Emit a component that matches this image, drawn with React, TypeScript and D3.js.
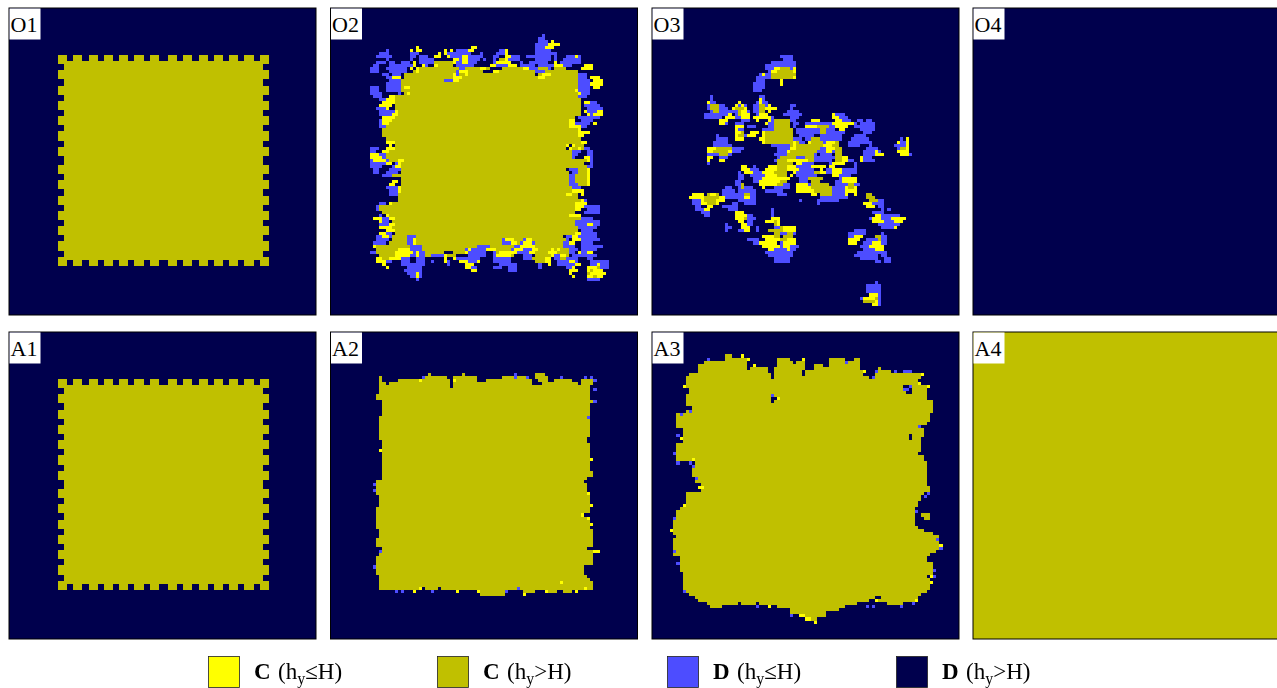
import React, { useEffect, useRef } from 'react';
import * as d3 from 'd3';

type Row = number[]; // [row, start, end, start, end, ...]

const stateKeys = ['C-low', 'C-high', 'D-low', 'D-high'];
const stateColors = ['#ffff00', '#c0c000', '#4d4dff', '#00004d'];
const legendBold = ['C', 'C', 'D', 'D'];
const legendRelation = ['≤H)', '>H)', '≤H)', '>H)'];

const panelLabels = ['O1', 'O2', 'O3', 'O4', 'A1', 'A2', 'A3', 'A4'];
const panelBackground = ['D-high', 'D-high', 'D-high', 'D-high', 'D-high', 'D-high', 'D-high', 'C-high'];

// starting square, its edge teeth
const seedBumps = [[16, 18], [21, 23], [26, 28], [31, 33], [36, 38], [41, 43], [46, 48], [52, 54], [57, 59], [62, 64], [67, 69], [72, 74], [77, 79], [82, 84]];
const seedCore = [18, 82];
const seedEdgeRows = [16, 17, 83, 84];
const seedEdgeCols = [16, 17, 83, 84];

const o2Blue: Row[] = [
  [9, 69, 69], [10, 68, 69], [11, 68, 70], [12, 67, 70], [13, 67, 69],
  [14, 18, 18, 41, 44, 55, 57, 67, 71],
  [15, 16, 18, 26, 28, 38, 45, 49, 49, 54, 57, 67, 73],
  [16, 15, 19, 26, 27, 29, 31, 39, 49, 53, 54, 59, 61, 64, 71, 73, 73, 77, 81],
  [17, 18, 18, 26, 26, 29, 33, 42, 48, 50, 50, 53, 53, 58, 61, 67, 71, 73, 73, 76, 81],
  [18, 15, 17, 19, 20, 23, 25, 29, 33, 41, 47, 53, 58, 62, 62, 65, 70, 75, 81],
  [19, 14, 15, 19, 27, 30, 31, 41, 46, 52, 60, 62, 66, 68, 72, 74, 78],
  [20, 13, 15, 18, 24, 26, 26, 41, 45, 47, 47, 64, 67, 70, 71],
  [21, 13, 15, 19, 24, 41, 44, 66, 70, 80, 80],
  [22, 17, 18, 20, 22, 41, 42, 68, 70, 81, 83],
  [23, 18, 22, 68, 68, 81, 83],
  [24, 19, 23, 37, 39, 68, 68, 81, 84],
  [25, 18, 24, 81, 85],
  [26, 13, 15, 18, 23, 81, 84],
  [27, 13, 15, 18, 23, 81, 84],
  [28, 13, 16, 22, 22, 81, 84],
  [29, 14, 16, 81, 83],
  [30, 16, 17],
  [31, 84, 86],
  [32, 83, 87],
  [33, 15, 18, 84, 88],
  [34, 16, 20, 84, 88],
  [35, 16, 20, 84, 86],
  [36, 17, 19, 81, 87],
  [37, 16, 18, 82, 85],
  [38, 16, 18, 80, 84],
  [39, 16, 17, 81, 83],
  [40, 17, 17],
  [41, 17, 18],
  [42, 18, 19],
  [44, 19, 20],
  [46, 13, 15, 78, 79, 81, 84],
  [47, 13, 14, 17, 18, 79, 81, 84, 85],
  [48, 13, 17, 79, 80, 84, 85],
  [49, 16, 17, 78, 79, 85, 85],
  [50, 13, 14, 17, 18, 22, 23, 78, 79, 85, 85],
  [51, 13, 17, 21, 22, 85, 85],
  [52, 13, 16, 20, 22, 77, 79, 84, 85],
  [53, 14, 15, 19, 22, 78, 82],
  [54, 14, 15, 18, 21, 79, 81],
  [55, 17, 19, 78, 81],
  [56, 78, 81], [57, 78, 81], [58, 78, 80],
  [59, 18, 21, 78, 81],
  [60, 19, 22], [61, 19, 22],
  [63, 80, 83],
  [64, 16, 17, 19, 20, 80, 83],
  [65, 15, 15, 83, 87],
  [66, 15, 15, 84, 87],
  [67, 83, 87],
  [68, 16, 16],
  [69, 16, 19, 82, 85],
  [70, 16, 18, 79, 87],
  [71, 16, 19, 79, 87],
  [72, 16, 17, 80, 86],
  [73, 82, 85],
  [74, 17, 19, 82, 86],
  [75, 15, 19, 25, 27, 77, 78, 81, 86],
  [76, 15, 18, 25, 27, 56, 58, 63, 65, 77, 77, 81, 87],
  [77, 14, 17, 25, 27, 56, 59, 62, 66, 76, 78, 82, 85],
  [78, 14, 15, 26, 29, 48, 51, 60, 66, 76, 79, 82, 88],
  [79, 26, 30, 44, 51, 59, 66, 74, 80, 82, 86],
  [80, 13, 14, 24, 30, 45, 50, 53, 53, 61, 66, 74, 76, 78, 79, 82, 84],
  [81, 24, 30, 33, 36, 45, 50, 53, 54, 63, 65, 72, 74, 79, 86],
  [82, 22, 25, 28, 30, 41, 48, 53, 58, 63, 66, 73, 74, 77, 80, 84, 85],
  [83, 18, 19, 23, 25, 28, 30, 33, 33, 37, 38, 42, 48, 53, 58, 67, 71, 74, 80, 85, 90],
  [84, 23, 30, 38, 38, 44, 46, 55, 60, 68, 68, 74, 79, 85, 90],
  [85, 25, 29, 45, 47, 53, 55, 58, 60, 68, 68, 77, 79, 87, 90],
  [86, 24, 29, 46, 46, 58, 60, 78, 80],
  [87, 25, 29],
  [88, 26, 29],
  [89, 28, 28, 84, 87],
];

const o2Olive: Row[] = [
  [17, 55, 56], [18, 34, 39],
  [19, 34, 39],
  [20, 29, 41, 44, 51, 56, 62, 68, 70, 73, 76],
  [21, 27, 40, 43, 49, 54, 66, 70, 80],
  [22, 24, 40, 42, 66, 68, 80],
  [23, 24, 80],
  [24, 23, 36, 40, 80],
  [25, 23, 80], [26, 23, 80], [27, 23, 80], [28, 24, 80],
  [29, 20, 80], [30, 19, 81], [31, 20, 81], [32, 21, 81], [33, 21, 81], [34, 21, 81], [35, 21, 81],
  [36, 20, 79], [37, 20, 78], [38, 19, 78], [39, 18, 78], [40, 17, 80],
  [41, 17, 81], [42, 17, 81], [43, 18, 81], [44, 20, 81],
  [45, 21, 77, 79, 82], [46, 20, 76, 78, 82],
  [47, 18, 78], [48, 18, 78], [49, 18, 78], [50, 19, 83],
  [51, 22, 82], [52, 23, 83],
  [53, 23, 76, 81, 83], [54, 23, 77, 81, 83], [55, 20, 77, 80, 83],
  [56, 23, 77, 80, 83], [57, 23, 77, 80, 83], [58, 23, 77, 81, 83],
  [59, 23, 78], [60, 23, 78], [61, 22, 80], [62, 22, 80], [63, 22, 81], [64, 20, 80],
  [65, 16, 79], [66, 16, 80], [67, 17, 79], [68, 18, 81], [69, 20, 81],
  [70, 20, 79], [71, 20, 79], [72, 20, 80], [73, 20, 80], [74, 21, 80],
  [75, 20, 24, 28, 75],
  [76, 20, 24, 28, 55, 59, 62, 66, 76],
  [77, 19, 24, 28, 55, 60, 61, 67, 75],
  [78, 15, 25, 30, 47, 52, 59, 67, 75],
  [79, 15, 24, 30, 43, 52, 58, 67, 73, 74, 77],
  [80, 15, 20, 31, 36, 40, 43, 54, 59, 67, 72, 74, 77],
  [81, 16, 20, 31, 32, 38, 40, 55, 59, 67, 71, 75, 77],
  [82, 17, 18, 66, 69, 75, 76],
  [83, 67, 69],
  [85, 84, 87], [86, 84, 87], [87, 84, 87], [88, 84, 87],
];

const o2Yellow: Row[] = [
  [11, 72, 72], [12, 71, 74], [13, 28, 28, 46, 47, 70, 72],
  [14, 26, 26, 28, 29, 37, 37, 39, 39, 45, 46, 57, 57],
  [15, 35, 35, 37, 37, 57, 57],
  [16, 34, 35, 38, 38, 43, 44, 57, 58, 80, 80],
  [17, 40, 41, 43, 44, 57, 57],
  [18, 27, 27, 40, 40, 43, 44, 54, 58, 73, 73],
  [19, 27, 27, 30, 30, 34, 34, 52, 53, 58, 60, 73, 75, 83, 85],
  [20, 26, 26, 28, 28, 49, 50, 63, 64, 82, 85],
  [21, 28, 28, 42, 44, 53, 54],
  [22, 40, 40, 44, 44, 69, 71],
  [23, 20, 22, 40, 42, 68, 69, 85, 87],
  [24, 40, 41, 86, 88], [25, 85, 88], [26, 24, 25, 86, 87],
  [27, 80, 80], [28, 25, 25, 81, 81], [29, 19, 20], [30, 18, 20],
  [31, 17, 20, 83, 84], [32, 16, 19], [33, 18, 18], [34, 21, 21, 83, 83, 87, 88],
  [35, 20, 21, 84, 84, 86, 88], [36, 17, 20], [37, 17, 19, 78, 79],
  [38, 17, 18, 78, 79, 86, 86], [39, 78, 81], [40, 81, 81], [41, 81, 84], [42, 81, 82],
  [44, 18, 20, 82, 83], [45, 19, 19, 77, 77, 79, 79], [46, 18, 20, 78, 78, 81, 81],
  [47, 17, 18], [48, 13, 15], [49, 13, 16, 83, 84], [50, 14, 17, 22, 23, 84, 84],
  [51, 18, 19, 22, 22], [52, 21, 22], [53, 84, 84], [54, 84, 84], [55, 84, 84], [56, 84, 84],
  [57, 20, 21, 84, 84], [58, 19, 20, 84, 84], [59, 22, 22], [60, 22, 22, 79, 82],
  [61, 77, 78, 82, 82], [63, 82, 82], [64, 19, 19, 80, 83], [65, 80, 82], [66, 80, 81],
  [68, 18, 18, 78, 80, 81, 81], [69, 14, 16, 19, 20], [70, 16, 16], [71, 19, 20, 84, 85],
  [72, 16, 19], [73, 18, 20], [74, 16, 17, 80, 81], [75, 17, 18, 79, 80],
  [76, 27, 27, 57, 59, 64, 65, 79, 81], [77, 27, 27, 59, 60, 63, 65, 78, 79],
  [78, 14, 14, 62, 66],
  [79, 22, 25, 45, 45, 51, 53, 60, 62, 66, 67, 72, 72, 74, 74],
  [80, 21, 26, 28, 28, 44, 44, 55, 60, 65, 66, 71, 73, 81, 81, 84, 85],
  [81, 21, 25, 28, 28, 37, 37, 54, 58, 72, 72, 75, 76],
  [82, 15, 16, 19, 22, 37, 37, 40, 40, 70, 71],
  [83, 15, 17, 37, 37, 42, 44, 48, 48, 70, 71, 78, 79],
  [84, 17, 17, 44, 46, 71, 71, 80, 81, 87, 87],
  [85, 18, 18, 44, 45, 79, 79, 84, 86],
  [86, 46, 47, 78, 80, 84, 84, 86, 88],
  [87, 28, 28, 78, 78, 85, 89],
  [88, 28, 28, 79, 79, 84, 85, 87, 88],
];

const o3Blue: Row[] = [
  [16, 42, 45], [17, 43, 45], [18, 39, 46], [19, 37, 46], [20, 37, 46], [21, 38, 46],
  [22, 35, 46], [23, 34, 38], [24, 34, 36], [25, 33, 36], [26, 33, 36], [27, 33, 35],
  [29, 19, 19, 35, 36], [30, 19, 19, 35, 36], [31, 19, 20, 28, 28, 34, 37],
  [32, 18, 23, 27, 30, 33, 37, 45, 46],
  [33, 18, 24, 26, 30, 33, 36, 45, 45],
  [34, 19, 25, 26, 31, 33, 35, 44, 47],
  [35, 17, 25, 27, 31, 34, 35, 43, 48, 59, 62],
  [36, 17, 22, 26, 31, 39, 39, 45, 47, 59, 63],
  [37, 22, 24, 29, 31, 39, 41, 44, 46, 52, 53, 60, 64, 67, 68, 70, 71],
  [38, 22, 24, 27, 29, 37, 42, 46, 47, 50, 59, 62, 66, 68, 72],
  [39, 27, 29, 31, 33, 38, 43, 46, 46, 50, 60, 66, 72],
  [40, 27, 29, 36, 44, 47, 59, 61, 61, 68, 72],
  [41, 36, 44, 47, 60, 61, 62, 69, 71],
  [42, 21, 21, 27, 30, 36, 44, 48, 52, 55, 61, 66, 69],
  [43, 21, 24, 27, 29, 37, 48, 50, 53, 55, 61, 65, 70, 81, 81],
  [44, 20, 24, 38, 49, 56, 60, 64, 69, 70, 71, 81, 82],
  [45, 20, 25, 39, 49, 55, 60, 64, 67, 71, 71, 79, 83],
  [46, 18, 29, 41, 60, 70, 73, 80, 83],
  [47, 18, 26, 27, 28, 41, 57, 59, 59, 69, 74, 83, 83],
  [48, 18, 25, 40, 53, 55, 58, 69, 73, 81, 84],
  [49, 22, 24, 41, 59, 60, 61, 68, 71],
  [50, 18, 18, 40, 48, 50, 58, 62, 65, 69, 72],
  [51, 18, 18, 47, 52, 58, 60, 66, 66],
  [52, 33, 33, 47, 52, 58, 59, 66, 66],
  [53, 32, 34, 47, 52, 57, 66],
  [54, 28, 28, 32, 36, 47, 58, 62, 66],
  [55, 28, 29, 32, 39, 47, 53, 61, 64],
  [56, 28, 29, 33, 38, 48, 52, 61, 66],
  [57, 27, 28, 33, 38, 48, 50, 60, 66],
  [58, 27, 29, 35, 36, 40, 44, 48, 52, 60, 67],
  [59, 24, 25, 28, 32, 40, 44, 55, 62],
  [60, 23, 26, 28, 33, 37, 42, 54, 62],
  [61, 15, 15, 23, 33, 41, 43, 58, 62],
  [62, 24, 30, 32, 33, 55, 63],
  [63, 13, 16, 28, 33, 48, 48, 54, 60, 72, 75],
  [64, 13, 17, 26, 27, 30, 33, 54, 54, 71, 75],
  [65, 14, 15, 23, 27, 74, 75],
  [66, 14, 18, 25, 27, 39, 39, 75, 75, 77, 77],
  [67, 16, 18, 28, 29, 39, 39, 72, 75],
  [68, 17, 18, 28, 32, 39, 39, 73, 80],
  [69, 31, 33, 39, 41, 71, 79],
  [70, 31, 32, 38, 41, 75, 80],
  [71, 24, 24, 30, 32, 40, 41, 74, 80],
  [72, 24, 25, 30, 31, 34, 34, 40, 44, 75, 79],
  [73, 24, 24, 28, 31, 34, 34, 42, 46, 66, 69],
  [74, 42, 46, 64, 69, 75, 75],
  [75, 64, 67, 73, 76],
  [76, 31, 34, 41, 46, 64, 65, 70, 76],
  [77, 33, 34, 42, 46, 69, 76],
  [78, 41, 47, 68, 75],
  [79, 38, 46, 69, 73],
  [80, 37, 45, 67, 76],
  [81, 38, 45, 66, 73, 75, 76],
  [82, 40, 44, 68, 73, 76, 77],
  [83, 40, 44, 73, 74, 76, 77],
  [90, 73, 73], [91, 70, 74], [92, 70, 74], [93, 70, 74],
  [94, 72, 74], [95, 68, 70, 74, 74], [96, 69, 71, 74, 74], [97, 74, 74],
];

const o3Olive: Row[] = [
  [20, 42, 44], [21, 41, 45], [22, 39, 46], [23, 39, 45],
  [32, 19, 21, 35, 36], [33, 19, 21, 27, 29, 35, 36], [34, 20, 21, 28, 30, 35, 36], [35, 28, 29, 35, 36],
  [37, 40, 44], [38, 40, 44], [39, 40, 44, 54, 57], [40, 40, 45, 55, 56],
  [41, 28, 29, 37, 45, 55, 56], [42, 28, 29, 37, 45], [43, 28, 28, 37, 45, 52, 54],
  [44, 37, 47, 52, 55, 59, 60], [45, 45, 55, 59, 60],
  [46, 21, 25, 45, 54, 59, 61, 81, 82], [47, 20, 24, 44, 53, 60, 61, 81, 82],
  [48, 22, 24, 44, 52, 60, 61], [49, 42, 46, 50, 52, 60, 62],
  [50, 41, 47, 50, 52, 60, 62], [51, 41, 45], [52, 40, 44], [53, 40, 46],
  [54, 39, 43, 53, 54], [55, 38, 43], [56, 41, 43, 51, 55], [57, 40, 43, 52, 54, 63, 65],
  [58, 29, 29, 41, 42, 52, 57, 64, 65], [59, 29, 29, 52, 58, 64, 65], [60, 52, 58, 64, 64],
  [61, 18, 21, 30, 31, 55, 58, 70, 71], [62, 16, 22, 31, 31, 70, 72],
  [63, 17, 21, 71, 73], [64, 18, 20], [65, 18, 18],
  [69, 29, 30], [70, 39, 40], [71, 40, 40], [72, 42, 43],
  [73, 38, 42, 44, 44], [74, 40, 41, 44, 45], [75, 40, 41, 43, 45, 73, 74],
  [76, 38, 38, 42, 45, 74, 74], [77, 43, 45, 73, 74], [78, 73, 74],
  [94, 72, 73], [95, 71, 73], [96, 69, 72],
];

const o3Yellow: Row[] = [
  [20, 40, 41, 46, 46], [21, 39, 40, 46, 46], [22, 36, 36], [23, 46, 46], [24, 42, 42], [25, 42, 42],
  [30, 35, 35], [31, 18, 18, 28, 28, 35, 35], [32, 27, 27, 29, 29, 38, 38],
  [33, 26, 26, 30, 30, 37, 40], [34, 29, 30, 38, 38],
  [35, 25, 25, 29, 31, 35, 37, 59, 59],
  [36, 24, 26, 29, 31, 33, 38, 59, 60],
  [37, 22, 24, 34, 34, 38, 38, 52, 54, 60, 61],
  [38, 22, 23, 37, 37, 59, 60, 61, 65],
  [39, 27, 29, 50, 53, 60, 63],
  [40, 27, 27, 61, 62],
  [41, 27, 28, 32, 34, 36, 36], [42, 27, 27, 31, 33, 36, 36],
  [43, 27, 29, 35, 36, 83, 83],
  [44, 36, 36, 46, 46, 51, 51, 57, 59, 80, 80, 83, 83],
  [45, 46, 46, 56, 58, 83, 83],
  [46, 18, 20, 45, 46, 57, 59, 83, 83],
  [47, 18, 19, 25, 25, 44, 44, 57, 58, 73, 73, 80, 83],
  [48, 73, 75, 81, 83],
  [49, 18, 19, 62, 63, 68, 68],
  [50, 18, 18, 22, 23, 44, 50, 62, 63, 68, 68],
  [51, 47, 48, 59, 62],
  [52, 29, 30, 38, 40, 44, 46, 52, 56, 58, 59],
  [53, 29, 31, 37, 40, 44, 47, 55, 55, 59, 61],
  [54, 30, 32, 36, 39, 46, 46, 55, 56, 59, 61],
  [55, 37, 40, 45, 45, 59, 60],
  [56, 36, 44, 62, 66],
  [57, 35, 41, 62, 66],
  [58, 35, 40, 47, 50],
  [59, 36, 36, 47, 51, 63, 63, 66, 66],
  [60, 47, 52, 63, 66],
  [61, 13, 16, 19, 20, 52, 53, 63, 63, 66, 66],
  [62, 12, 16, 22, 23, 30, 31],
  [63, 16, 16, 21, 23],
  [64, 16, 17, 21, 21, 69, 71],
  [65, 18, 19, 70, 72], [66, 17, 18],
  [67, 27, 29], [68, 27, 30, 73, 74],
  [69, 27, 29, 39, 41, 72, 74, 78, 82],
  [70, 28, 29, 37, 39, 41, 41, 72, 75, 79, 81],
  [71, 29, 30, 41, 41], [72, 29, 31, 43, 46, 79, 79], [73, 30, 31, 43, 46],
  [75, 36, 39, 66, 68], [76, 37, 41, 44, 46, 64, 67],
  [77, 35, 40, 43, 46, 64, 66, 72, 74], [78, 36, 41, 43, 44, 71, 75], [79, 38, 39, 44, 44, 73, 75],
  [94, 71, 73], [95, 69, 72], [96, 73, 73], [97, 72, 73],
];

const a2Olive: Row[] = [
  [14, 32, 32, 43, 43, 67, 69],
  [15, 16, 16, 30, 37, 40, 47, 56, 59, 61, 64, 67, 70],
  [16, 16, 16, 22, 28, 30, 38, 40, 47, 51, 65, 68, 70, 73, 78, 82, 85],
  [17, 16, 17, 19, 38, 40, 65, 69, 80, 82, 85],
  [18, 16, 38, 40, 84],
  [19, 16, 84], [20, 16, 84], [21, 15, 84], [22, 15, 84], [23, 17, 85], [24, 17, 84],
  [25, 17, 84], [26, 17, 84], [27, 17, 84],
  [28, 16, 84], [29, 16, 84], [30, 16, 84], [31, 16, 84], [32, 16, 84], [33, 16, 84], [34, 16, 84],
  [35, 16, 83], [36, 17, 83],
  [37, 17, 84], [38, 17, 84], [39, 17, 84], [40, 17, 84], [41, 17, 84], [42, 17, 84], [43, 17, 84], [44, 17, 84], [45, 17, 84],
  [46, 17, 85], [47, 17, 85], [48, 17, 83],
  [49, 15, 82], [50, 15, 83], [51, 15, 83], [52, 15, 83], [53, 15, 83], [54, 16, 84], [55, 16, 84], [56, 16, 84],
  [57, 16, 85], [58, 15, 84], [59, 15, 84], [60, 15, 81], [61, 15, 83], [62, 15, 84], [63, 15, 84], [64, 15, 84],
  [65, 16, 85], [66, 16, 85], [67, 16, 85], [68, 15, 85], [69, 15, 85], [70, 15, 85], [71, 17, 83],
  [72, 16, 85], [73, 16, 85], [74, 15, 85], [75, 15, 85], [76, 15, 85], [77, 15, 82], [78, 15, 82],
  [79, 15, 82], [80, 16, 83], [81, 16, 84], [82, 16, 85], [83, 16, 85],
  [84, 16, 28, 31, 34, 36, 60, 62, 75, 76, 85],
  [85, 49, 56, 63, 66, 70, 73, 76, 78],
  [86, 49, 56],
];

const a2Yellow: Row[] = [
  [16, 29, 29, 40, 40], [39, 16, 16], [42, 85, 85], [53, 84, 84], [57, 85, 85], [60, 82, 82], [61, 84, 84], [63, 85, 85],
  [72, 86, 87], [82, 75, 75], [84, 29, 29, 83, 83], [85, 27, 27, 41, 41, 48, 48, 70, 70, 80, 80], [86, 63, 63],
];

const a2Blue: Row[] = [
  [14, 60, 60], [15, 30, 30, 60, 60, 64, 64, 75, 75, 83, 83, 85, 85], [16, 86, 86], [19, 86, 86], [23, 86, 86], [28, 84, 84],
  [50, 14, 14], [52, 14, 14], [72, 16, 16], [77, 14, 14], [84, 61, 61], [85, 21, 21, 23, 23, 33, 33, 57, 57],
];

const a3Olive: Row[] = [
  [8, 24, 25],
  [9, 24, 30, 41, 44, 58, 62, 66, 67],
  [10, 17, 30, 41, 45, 47, 49, 58, 67],
  [11, 15, 30, 41, 49, 53, 55, 58, 67],
  [12, 15, 30, 32, 37, 40, 49, 53, 67, 74, 74],
  [13, 15, 37, 40, 48, 50, 68, 74, 77],
  [14, 12, 38, 40, 48, 50, 68, 73, 87],
  [15, 11, 38, 40, 70, 73, 87],
  [16, 11, 86], [17, 11, 86],
  [18, 11, 81, 85, 89], [19, 12, 81, 85, 89], [20, 12, 82, 85, 89],
  [21, 11, 38, 40, 89], [22, 11, 38, 41, 89], [23, 11, 38, 40, 91], [24, 11, 91], [25, 13, 91], [26, 11, 91],
  [27, 8, 90], [28, 8, 90], [29, 8, 90], [30, 8, 89], [31, 8, 87],
  [32, 10, 88], [33, 10, 88], [34, 10, 83, 85, 88], [35, 10, 83, 85, 87], [36, 10, 87],
  [37, 8, 87], [38, 8, 87], [39, 8, 87], [40, 8, 86], [41, 8, 88], [42, 8, 88],
  [43, 14, 89], [44, 13, 89], [45, 13, 89], [46, 13, 89], [47, 13, 89], [48, 14, 89], [49, 14, 89], [50, 16, 89],
  [51, 16, 90], [52, 16, 90], [53, 11, 88], [54, 11, 87], [55, 11, 87], [56, 11, 86], [57, 10, 86], [58, 9, 85],
  [59, 8, 85], [60, 8, 85, 88, 90], [61, 8, 85, 89, 90], [62, 7, 85], [63, 7, 85], [64, 7, 86], [65, 7, 88], [66, 7, 91],
  [67, 8, 93], [68, 7, 93], [69, 7, 93], [70, 7, 93], [71, 7, 93], [72, 7, 92], [73, 7, 90],
  [74, 9, 89], [75, 9, 89], [76, 9, 91], [77, 9, 91], [78, 9, 91], [79, 10, 91], [80, 10, 89, 91, 91],
  [81, 10, 90], [82, 10, 90], [83, 10, 90], [84, 10, 90], [85, 11, 89], [86, 12, 87],
  [87, 14, 72, 75, 86],
  [88, 15, 70, 74, 85],
  [89, 18, 27, 29, 33, 35, 66, 77, 81],
  [90, 19, 22, 41, 62],
  [91, 45, 60],
  [92, 45, 56],
  [93, 50, 56],
  [94, 52, 53],
];

const a3Yellow: Row[] = [
  [8, 29, 29], [9, 31, 31, 49, 49], [11, 33, 33], [13, 69, 69], [14, 88, 88], [17, 87, 87], [18, 10, 10, 90, 90], [22, 41, 41],
  [35, 9, 9], [42, 13, 13], [51, 15, 16], [57, 10, 10], [65, 6, 6], [70, 94, 94], [80, 91, 91], [82, 91, 91],
  [88, 73, 73, 86, 86], [90, 38, 38], [93, 48, 49], [94, 50, 51], [95, 53, 53],
];

const a3Blue: Row[] = [
  [9, 18, 18], [10, 63, 63], [13, 73, 73, 79, 79, 82, 84], [15, 72, 72], [18, 84, 84], [19, 82, 83], [21, 39, 39],
  [26, 12, 12], [27, 9, 9], [31, 87, 87], [34, 8, 8], [40, 7, 7], [43, 8, 8, 12, 12], [44, 13, 13], [48, 14, 14],
  [53, 90, 90], [54, 89, 89], [59, 86, 86], [61, 7, 7], [68, 93, 93], [71, 94, 94], [72, 7, 7], [76, 8, 8], [78, 92, 92],
  [80, 92, 92], [85, 10, 10], [89, 85, 85], [90, 34, 34, 70, 70, 72, 72, 81, 81], [93, 45, 45],
];

// drawn back to front, one list per state in each panel
const o2Layers: [string, Row[]][] = [['D-low', o2Blue], ['C-high', o2Olive], ['C-low', o2Yellow]];
const o3Layers: [string, Row[]][] = [['D-low', o3Blue], ['C-high', o3Olive], ['C-low', o3Yellow]];
const a2Layers: [string, Row[]][] = [['C-high', a2Olive], ['C-low', a2Yellow], ['D-low', a2Blue]];
const a3Layers: [string, Row[]][] = [['C-high', a3Olive], ['C-low', a3Yellow], ['D-low', a3Blue]];

const seedRows: Row[] = [];
d3.range(seedCore[0], seedCore[1] + 1).forEach(r => seedRows.push([r, seedCore[0], seedCore[1]]));
seedEdgeRows.forEach(r => seedRows.push([r, ...seedBumps.flat()]));
seedBumps.forEach(([a, b]) => {
  d3.range(a, b + 1).forEach(r => seedEdgeCols.forEach(c => seedRows.push([r, c, c])));
});
const seedLayers: [string, Row[]][] = [['C-high', seedRows]];

const panelLayers: [string, Row[]][][] = [seedLayers, o2Layers, o3Layers, [], seedLayers, a2Layers, a3Layers, []];

const App: React.FC = () => {
  const svgRef = useRef<SVGSVGElement>(null);

  useEffect(() => {
    if (!svgRef.current) return;
    const width = 1277;
    const height = 688;
    const svg = d3.select(svgRef.current).attr('width', width).attr('height', height);
    svg.selectAll('*').remove();

    const panelSize = 307;
    const panelX = [9, 330.5, 652, 973];
    const panelY = [8, 332];
    const latticeSize = 100;
    const cell = d3.scaleLinear().domain([0, latticeSize]).range([0, 305.8]);
    const color = d3.scaleOrdinal<string>().domain(stateKeys).range(stateColors);

    panelLabels.forEach((label, i) => {
      const px = panelX[i % 4];
      const py = panelY[Math.floor(i / 4)];
      const g = svg.append('g').attr('transform', `translate(${px},${py})`);

      g.append('rect')
        .attr('width', panelSize)
        .attr('height', panelSize)
        .attr('fill', color(panelBackground[i]));

      const runs = g.append('g').attr('transform', 'translate(0,-2)').attr('shape-rendering', 'crispEdges');
      panelLayers[i].forEach(([state, rows]) => {
        rows.forEach(row => {
          for (let k = 1; k < row.length; k += 2) {
            runs.append('rect')
              .attr('x', cell(row[k]))
              .attr('y', cell(row[0]))
              .attr('width', cell(row[k + 1] + 1) - cell(row[k]))
              .attr('height', cell(1))
              .attr('fill', color(state));
          }
        });
      });

      g.append('rect')
        .attr('width', panelSize)
        .attr('height', panelSize)
        .attr('fill', 'none')
        .attr('stroke', '#000')
        .attr('stroke-width', 1);

      g.append('rect')
        .attr('x', 0.5)
        .attr('y', 0.5)
        .attr('width', 31)
        .attr('height', 31)
        .attr('fill', '#fff');

      g.append('text')
        .attr('x', 1.5)
        .attr('y', 24)
        .attr('font-family', '"Liberation Serif", serif')
        .attr('font-size', 22)
        .attr('fill', '#000')
        .text(label);
    });

    // Legend
    const legendX = [208, 437, 667, 896];
    stateKeys.forEach((key, i) => {
      const g = svg.append('g').attr('transform', `translate(${legendX[i]},656)`);
      g.append('rect')
        .attr('x', 0.5)
        .attr('y', 0.5)
        .attr('width', 31)
        .attr('height', 31)
        .attr('fill', color(key))
        .attr('stroke', '#222')
        .attr('stroke-width', 0.8);

      const text = g.append('text')
        .attr('y', 23)
        .attr('font-family', '"Liberation Serif", serif')
        .attr('font-size', 23)
        .attr('fill', '#000');
      text.append('tspan').attr('x', 46).attr('font-weight', 'bold').text(legendBold[i]);
      text.append('tspan').attr('x', 70).text('(h');
      text.append('tspan').attr('dy', 5).attr('font-size', 16).text('y');
      text.append('tspan').attr('dy', -5).text(legendRelation[i]);
    });
  }, []);

  return <svg ref={svgRef} style={{ position: 'fixed', left: 0, top: 0, display: 'block' }} />;
};

export default App;
